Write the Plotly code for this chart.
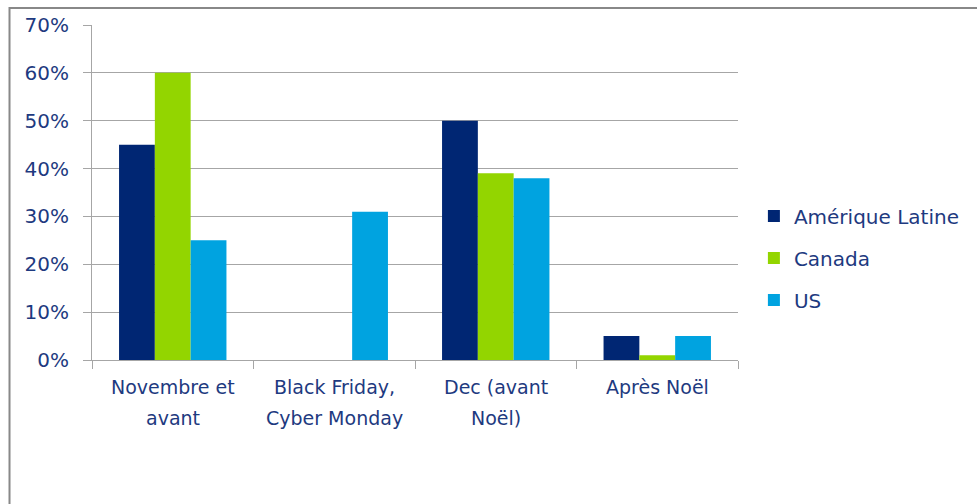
import plotly.graph_objects as go

categories = ["Novembre et\navant", "Black Friday,\nCyber Monday", "Dec (avant\nNoël)", "Après Noël"]
series_names = ["Amérique Latine", "Canada", "US"]
amerique_latine = [0.45, 0.0, 0.50, 0.05]
canada = [0.60, 0.0, 0.39, 0.01]
us = [0.25, 0.31, 0.38, 0.05]
colors = ["#002673", "#93D500", "#00A3E0"]
y_ticks = [0, 0.1, 0.2, 0.3, 0.4, 0.5, 0.6, 0.7]

TEXT = "#1E3A80"
FONT = "DejaVu Sans"
GRID = "#A6A6A6"

fig = go.Figure()
for name, vals, col in zip(series_names, [amerique_latine, canada, us], colors):
    fig.add_trace(go.Bar(
        x=categories, y=vals, name=name, legendgroup=name,
        marker=dict(color=col, line=dict(width=0)),
    ))

# category labels, one annotation per line
for cat in categories:
    for i, line in enumerate(cat.split("\n")):
        fig.add_annotation(
            x=cat, y=0, xref="x", yref="y", text=line, showarrow=False,
            yanchor="middle", xanchor="center", yshift=-(27 + 31 * i),
            font=dict(family=FONT, size=19, color=TEXT),
        )

L, R, T, B = 92, 235, 25, 144
W, H = 977, 504
pw, ph = W - L - R, H - T - B

# outer frame
fig.add_shape(
    type="rect", xref="paper", yref="paper",
    x0=(9 - L) / pw, x1=(990 - L) / pw,
    y0=(H - B - 520) / ph, y1=(H - B - 8) / ph,
    line=dict(color="#888888", width=2), fillcolor="rgba(0,0,0,0)", layer="below",
)

fig.update_layout(
    width=W, height=H,
    margin=dict(l=L, r=R, t=T, b=B),
    paper_bgcolor="white", plot_bgcolor="white",
    barmode="group", bargap=0.335, bargroupgap=0,
    font=dict(family=FONT, color=TEXT),
    legend=dict(
        x=(758 - L) / pw, xanchor="left",
        y=(H - B - 258) / ph, yanchor="middle",
        font=dict(family=FONT, size=20, color=TEXT),
        tracegroupgap=13, traceorder="grouped",
        bgcolor="rgba(0,0,0,0)",
    ),
    xaxis=dict(
        type="category", showticklabels=False,
        ticks="outside", ticklen=8, tickcolor=GRID, tickson="boundaries",
        showline=True, linecolor=GRID, linewidth=1, showgrid=False,
    ),
    yaxis=dict(
        range=[0, 0.7], tickvals=y_ticks, tickformat=".0%",
        ticks="outside", ticklen=8, tickcolor=GRID,
        showline=True, linecolor=GRID, linewidth=1,
        showgrid=True, gridcolor=GRID, gridwidth=1, zeroline=False,
        tickfont=dict(family=FONT, size=20, color=TEXT),
        ticklabelstandoff=10,
    ),
)

fig.write_html("out.html")
